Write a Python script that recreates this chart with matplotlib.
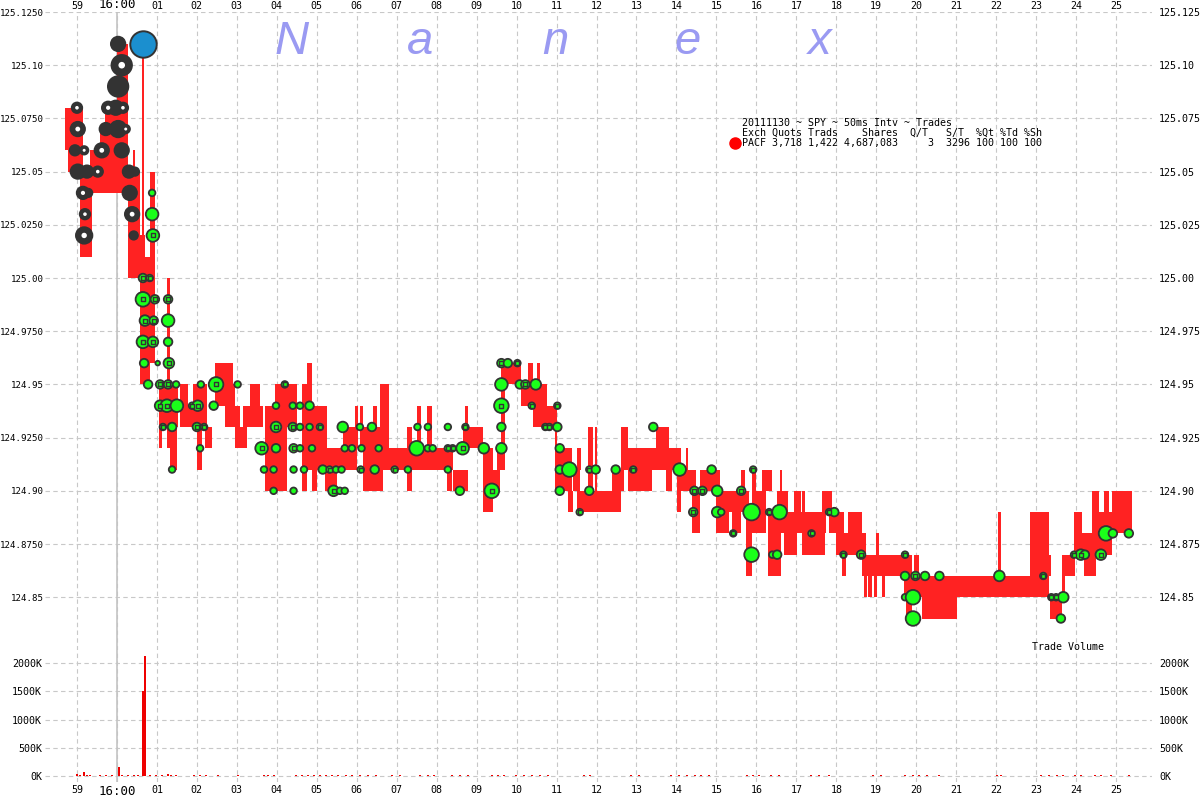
import matplotlib.pyplot as plt
from matplotlib.lines import Line2D

# ---- PACF quotes (bid/offer band), seconds after 16:00:00 ----
quote_t0 = [-1.30, -1.22, -0.92, -0.68, -0.42, -0.30, 0.00, 0.28, 0.40, 0.62,
            0.82, 0.58, 0.40, 0.70, 1.05, 1.25, 1.08, 1.32, 1.58, 1.70,
            1.90, 2.00, 2.20, 2.45, 2.70, 2.95, 3.00, 3.15, 3.32, 3.45,
            3.70, 3.95, 4.62, 4.75, 4.88, 5.00, 5.20, 5.50, 5.65, 5.95,
            6.08, 6.15, 6.40, 6.58, 6.75, 7.25, 7.32, 7.50, 7.75, 7.90,
            8.25, 8.40, 8.65, 8.70, 9.15, 9.40, 9.50, 9.62, 9.62, 10.12,
            10.28, 10.50, 10.40, 10.75, 10.95, 11.02, 11.28, 11.40, 11.52, 11.52,
            11.78, 11.95, 11.88, 12.38, 12.62, 12.78, 13.02, 13.50, 13.75, 14.02,
            14.08, 14.25, 14.40, 14.58, 15.00, 15.25, 15.40, 15.62, 15.75, 15.88,
            15.90, 16.15, 16.28, 16.52, 16.60, 16.50, 16.70, 16.95, 17.15, 17.15,
            17.65, 17.82, 18.00, 18.15, 18.30, 18.65, 18.70, 18.80, 18.95, 19.15,
            19.00, 19.95, 19.70, 20.15, 19.75, 22.05, 22.85, 23.12, 23.35, 23.65,
            23.65, 23.95, 24.02, 23.95, 24.20, 24.40, 24.50, 24.70, 24.90]
quote_t1 = [-1.22, -0.85, -0.62, -0.42, -0.22, 0.00, 0.28, 0.58, 0.45, 0.68,
            0.95, 0.82, 0.70, 0.82, 1.12, 1.32, 1.52, 1.50, 1.78, 1.90,
            2.25, 2.12, 2.38, 2.90, 2.95, 3.08, 3.25, 3.32, 3.58, 3.65,
            4.25, 4.50, 4.75, 4.88, 5.00, 5.25, 5.50, 6.00, 5.95, 6.02,
            6.15, 6.65, 6.52, 6.82, 7.32, 7.38, 8.00, 7.62, 7.88, 8.40,
            8.38, 8.78, 9.15, 8.78, 9.40, 9.58, 9.70, 9.70, 10.12, 10.40,
            10.40, 10.58, 10.75, 10.95, 11.02, 11.38, 11.40, 11.58, 11.62, 11.88,
            11.90, 12.02, 12.62, 12.70, 12.78, 13.40, 14.12, 13.82, 13.88, 14.12,
            14.50, 14.30, 14.58, 15.08, 15.32, 15.82, 15.62, 15.72, 15.90, 16.25,
            15.98, 16.38, 16.62, 16.78, 16.65, 17.75, 17.02, 17.12, 17.22, 17.72,
            17.90, 18.20, 18.75, 18.25, 18.65, 19.90, 18.78, 18.90, 19.02, 19.22,
            19.08, 20.08, 22.88, 21.02, 19.90, 22.12, 23.32, 23.38, 23.65, 23.98,
            23.72, 24.02, 24.15, 24.50, 24.50, 24.58, 24.90, 24.82, 25.40]
quote_hi = [125.08, 125.08, 125.05, 125.06, 125.07, 125.08, 125.11, 125.05, 125.06, 125.11,
            125.05, 125.00, 125.02, 125.01, 124.95, 125.00, 124.95, 124.95, 124.95, 124.94,
            124.95, 124.93, 124.93, 124.96, 124.95, 124.94, 124.93, 124.94, 124.95, 124.94,
            124.94, 124.95, 124.95, 124.96, 124.94, 124.94, 124.92, 124.92, 124.93, 124.94,
            124.94, 124.93, 124.94, 124.95, 124.92, 124.93, 124.92, 124.94, 124.94, 124.92,
            124.91, 124.91, 124.93, 124.94, 124.92, 124.91, 124.92, 124.95, 124.96, 124.95,
            124.96, 124.96, 124.95, 124.94, 124.94, 124.92, 124.90, 124.91, 124.92, 124.90,
            124.93, 124.93, 124.90, 124.91, 124.93, 124.92, 124.92, 124.93, 124.91, 124.92,
            124.91, 124.92, 124.90, 124.91, 124.90, 124.90, 124.89, 124.91, 124.89, 124.90,
            124.91, 124.91, 124.89, 124.90, 124.91, 124.89, 124.88, 124.90, 124.90, 124.88,
            124.90, 124.89, 124.88, 124.87, 124.89, 124.87, 124.86, 124.86, 124.86, 124.86,
            124.88, 124.87, 124.86, 124.85, 124.85, 124.89, 124.89, 124.87, 124.85, 124.87,
            124.86, 124.89, 124.89, 124.88, 124.87, 124.90, 124.89, 124.90, 124.90]
quote_lo = [125.06, 125.05, 125.01, 125.04, 125.04, 125.04, 125.04, 125.00, 125.05, 125.00,
            124.96, 124.95, 125.00, 125.00, 124.92, 124.92, 124.93, 124.91, 124.93, 124.93,
            124.93, 124.91, 124.92, 124.94, 124.93, 124.92, 124.92, 124.93, 124.93, 124.93,
            124.90, 124.93, 124.90, 124.91, 124.90, 124.91, 124.90, 124.91, 124.91, 124.92,
            124.92, 124.90, 124.92, 124.91, 124.91, 124.90, 124.91, 124.92, 124.92, 124.91,
            124.90, 124.90, 124.92, 124.93, 124.89, 124.90, 124.91, 124.91, 124.95, 124.94,
            124.95, 124.95, 124.93, 124.93, 124.90, 124.90, 124.89, 124.90, 124.91, 124.89,
            124.90, 124.90, 124.89, 124.90, 124.91, 124.90, 124.91, 124.91, 124.90, 124.89,
            124.90, 124.91, 124.88, 124.90, 124.88, 124.89, 124.88, 124.90, 124.86, 124.88,
            124.90, 124.90, 124.86, 124.89, 124.90, 124.88, 124.87, 124.89, 124.89, 124.87,
            124.89, 124.88, 124.87, 124.86, 124.88, 124.86, 124.85, 124.85, 124.85, 124.85,
            124.87, 124.86, 124.85, 124.84, 124.84, 124.86, 124.85, 124.86, 124.84, 124.86,
            124.85, 124.87, 124.87, 124.87, 124.86, 124.88, 124.87, 124.89, 124.88]

# ---- trades: time, price, shares, kind ----
# kind: d dark, w dark with white core, g green, m green with inner print, b block print
trade_t = [-1.00, -0.22, -0.03, 0.15, -0.98, -0.28, 0.03, 0.22, -1.05, -0.82,
           -0.38, 0.12, -0.98, -0.75, -0.48, 0.30, 0.45, -0.85, -0.72, 0.32,
           -0.80, 0.38, -0.82, 0.42, 0.03, 0.03, 0.12,
           0.88, 0.88, 0.90, 0.65, 0.82, 0.65, 0.95, 1.28, 0.70, 0.92,
           1.28, 0.65, 0.90, 1.28, 0.68, 1.02, 1.30, 0.78, 1.08, 1.28,
           1.48, 1.08, 1.25, 1.50, 1.15, 1.38, 1.38, 2.10, 2.48, 3.02,
           1.88, 2.02, 2.42, 2.00, 2.18, 2.08, 4.20, 3.98, 4.40, 4.58,
           4.82, 3.98, 4.40, 4.58, 4.82, 5.08, 3.62, 3.98, 4.42, 4.58,
           4.88, 3.68, 3.92, 4.42, 4.68, 3.92, 4.42, 5.42, 5.58, 5.70,
           5.15, 5.32, 5.48, 5.62, 5.65, 6.08, 6.38, 5.70, 5.88, 6.12,
           6.55, 6.10, 6.45, 6.95, 7.28, 7.50, 7.78, 7.90, 7.52, 7.78,
           8.28, 8.72, 8.28, 8.40, 8.65, 9.18, 8.28, 8.58, 9.38, 9.62,
           9.78, 10.02, 9.62, 10.08, 10.22, 10.48, 9.62, 10.38, 11.02, 9.62,
           10.72, 10.82, 11.02, 9.62, 11.08, 11.08, 11.32, 11.82, 11.98, 12.48,
           12.92, 14.08, 14.88, 11.08, 11.82, 14.45, 14.65, 15.02, 11.58, 14.42,
           15.02, 13.42, 15.92, 15.62, 15.12, 15.88, 16.32, 16.58, 17.82, 17.95,
           15.42, 17.38, 15.88, 16.40, 16.52, 18.18, 18.62, 19.72, 19.72, 19.98,
           20.22, 20.58, 22.08, 19.72, 19.92, 19.92, 23.18, 23.38, 23.50, 23.68,
           23.62, 23.95, 24.12, 24.22, 24.62, 24.75, 24.92, 25.32,
           0.65]
trade_px = [125.08, 125.08, 125.08, 125.08, 125.07, 125.07, 125.07, 125.07, 125.06, 125.06,
            125.06, 125.06, 125.05, 125.05, 125.05, 125.05, 125.05, 125.04, 125.04, 125.04,
            125.03, 125.03, 125.02, 125.02, 125.11, 125.09, 125.10,
            125.04, 125.03, 125.02, 125.00, 125.00, 124.99, 124.99, 124.99, 124.98, 124.98,
            124.98, 124.97, 124.97, 124.97, 124.96, 124.96, 124.96, 124.95, 124.95, 124.95,
            124.95, 124.94, 124.94, 124.94, 124.93, 124.93, 124.91, 124.95, 124.95, 124.95,
            124.94, 124.94, 124.94, 124.93, 124.93, 124.92, 124.95, 124.94, 124.94, 124.94,
            124.94, 124.93, 124.93, 124.93, 124.93, 124.93, 124.92, 124.92, 124.92, 124.92,
            124.92, 124.91, 124.91, 124.91, 124.91, 124.90, 124.90, 124.90, 124.90, 124.90,
            124.91, 124.91, 124.91, 124.91, 124.93, 124.93, 124.93, 124.92, 124.92, 124.92,
            124.92, 124.91, 124.91, 124.91, 124.91, 124.92, 124.92, 124.92, 124.93, 124.93,
            124.93, 124.93, 124.92, 124.92, 124.92, 124.92, 124.91, 124.90, 124.90, 124.96,
            124.96, 124.96, 124.95, 124.95, 124.95, 124.95, 124.94, 124.94, 124.94, 124.93,
            124.93, 124.93, 124.93, 124.92, 124.92, 124.91, 124.91, 124.91, 124.91, 124.91,
            124.91, 124.91, 124.91, 124.90, 124.90, 124.90, 124.90, 124.90, 124.89, 124.89,
            124.89, 124.93, 124.91, 124.90, 124.89, 124.89, 124.89, 124.89, 124.89, 124.89,
            124.88, 124.88, 124.87, 124.87, 124.87, 124.87, 124.87, 124.87, 124.86, 124.86,
            124.86, 124.86, 124.86, 124.85, 124.85, 124.84, 124.86, 124.85, 124.85, 124.85,
            124.84, 124.87, 124.87, 124.87, 124.87, 124.88, 124.88, 124.88,
            125.11]
trade_sh = [33000, 71000, 138000, 33000, 138000, 71000, 250000, 13000, 33000, 13000,
            138000, 138000, 138000, 71000, 33000, 71000, 13000, 71000, 13000, 138000,
            33000, 138000, 250000, 13000, 138000, 680000, 680000,
            4300, 71000, 71000, 13000, 4300, 138000, 13000, 13000, 33000, 13000,
            71000, 71000, 33000, 13000, 13000, 1000, 33000, 13000, 13000, 13000,
            4300, 33000, 71000, 71000, 4300, 13000, 4300, 4300, 138000, 4300,
            4300, 33000, 13000, 13000, 4300, 4300, 4300, 4300, 4300, 4300,
            13000, 33000, 13000, 4300, 4300, 4300, 71000, 13000, 13000, 4300,
            4300, 4300, 4300, 4300, 4300, 4300, 4300, 33000, 4300, 4300,
            13000, 4300, 4300, 4300, 33000, 4300, 13000, 4300, 4300, 4300,
            4300, 4300, 13000, 4300, 4300, 138000, 4300, 4300, 4300, 4300,
            4300, 4300, 4300, 4300, 71000, 33000, 4300, 13000, 138000, 13000,
            13000, 4300, 71000, 13000, 13000, 33000, 138000, 4300, 4300, 13000,
            4300, 4300, 13000, 33000, 13000, 13000, 138000, 4300, 13000, 13000,
            4300, 71000, 13000, 13000, 13000, 13000, 13000, 33000, 4300, 13000,
            33000, 13000, 4300, 13000, 4300, 250000, 4300, 138000, 4300, 13000,
            4300, 4300, 138000, 4300, 13000, 4300, 13000, 4300, 13000, 13000,
            13000, 13000, 33000, 4300, 138000, 138000, 4300, 4300, 4300, 33000,
            13000, 4300, 33000, 13000, 33000, 138000, 13000, 13000,
            2200000]
trade_kind = ("wwdwwddwdw" "wdddwddwdd" "wwwdddw"
              "ggmmmmmmmm" "gmmgggmgmm" "gmmgmgggmg" "mmgmmgmggg"
              "gmmggmmgmg" "gggggggmgg" "gmgggggggg" "gmgmgggggg"
              "gmmmmgggmm" "gmggmgmmmg" "mmgggggmgg" "mggggmmgmm"
              "ggmmggmgmg" "mmgggmmmgm" "ggggggmmmg" "gmmgmggg"
              "b")
assert len(trade_t) == len(trade_px) == len(trade_sh) == len(trade_kind)

# ---- trade volume per 50ms interval (thousands of shares) ----
vol_t = [-1.02, -0.95, -0.85, -0.78, -0.70, -0.45, -0.30, -0.15, 0.03, 0.10,
         0.25, 0.40, 0.50, 0.62, 0.68, 0.80, 0.95, 1.10, 1.25, 1.32,
         1.45, 1.90, 2.05, 2.20, 2.50, 3.00, 3.65, 3.75, 3.90, 4.45,
         4.60, 4.75, 4.90, 5.05, 5.20, 5.35, 5.50, 5.70, 5.85, 6.05,
         6.25, 6.45, 6.85, 7.05, 7.55, 7.75, 7.90, 8.35, 8.55, 8.75,
         9.35, 9.50, 9.65, 9.95, 10.15, 10.35, 10.55, 10.75, 11.65, 11.80,
         12.85, 13.05, 13.85, 14.05, 14.25, 14.45, 14.60, 14.80, 15.75, 15.90,
         16.05, 16.35, 16.55, 17.35, 17.55, 17.80, 18.90, 19.10, 19.70, 19.90,
         20.05, 20.25, 20.55, 22.00, 22.10, 23.10, 23.30, 23.50, 23.65, 23.95,
         24.10, 24.45, 24.60, 24.85, 25.30]
vol_k = [40, 25, 70, 18, 16, 16, 16, 16, 160, 18,
         16, 16, 16, 1500, 2130, 18, 22, 18, 35, 18,
         18, 18, 16, 16, 22, 18, 18, 18, 16, 18,
         18, 18, 18, 18, 18, 16, 18, 18, 16, 18,
         16, 18, 18, 16, 18, 16, 18, 18, 16, 18,
         18, 26, 18, 18, 18, 16, 18, 18, 18, 16,
         18, 16, 18, 18, 16, 18, 16, 18, 18, 16,
         18, 18, 16, 18, 16, 18, 18, 16, 18, 18,
         16, 18, 16, 18, 16, 18, 18, 16, 18, 18,
         16, 18, 18, 16, 18]

sec_ticks = list(range(-1, 26))
sec_labels = ["59", "16:00"] + [f"{s:02d}" for s in range(1, 26)]
price_ticks = [124.85, 124.875, 124.90, 124.925, 124.95, 124.975,
               125.00, 125.025, 125.05, 125.075, 125.10, 125.125]
left_labels = ["124.85", "124.8750", "124.90", "124.9250", "124.95", "124.9750",
               "125.00", "125.0250", "125.05", "125.0750", "125.10", "125.1250"]
right_labels = ["124.85", "124.875", "124.90", "124.925", "124.95", "124.975",
                "125.00", "125.025", "125.05", "125.075", "125.10", "125.125"]
vol_ticks = [0, 500, 1000, 1500, 2000]
vol_labels = ["0K", "500K", "1000K", "1500K", "2000K"]

MONO = "DejaVu Sans Mono"
FS = 7.2
RED = "#ff2222"
GREEN = "#1aff1a"
DARK = "#333333"
GRID = "#c8c8c8"

W, H = 1200, 800
fig = plt.figure(figsize=(12, 8), dpi=100)
ax = fig.add_axes([45 / W, 1 - 650 / H, 1107 / W, 638 / H])
axv = fig.add_axes([45 / W, 1 - 782 / H, 1107 / W, 132 / H], sharex=ax)


def style(a):
    for sp in a.spines.values():
        sp.set_visible(False)
    a.tick_params(length=0, labelsize=FS)
    for lab in a.get_xticklabels() + a.get_yticklabels():
        lab.set_family(MONO)


# quotes band
heights = [h - l for h, l in zip(quote_hi, quote_lo)]
widths = [b - a for a, b in zip(quote_t0, quote_t1)]
ax.bar(quote_t0, heights, width=widths, bottom=quote_lo, align="edge",
       color=RED, linewidth=0, zorder=2)


def diam(sh):
    return 1.5 * sh ** 0.2  # pixels


def area(sh):
    return max(0.72 * diam(sh) - 1.0, 2.0) ** 2


def pick(kinds):
    idx = [i for i, k in enumerate(trade_kind) if k in kinds]
    return ([trade_t[i] for i in idx], [trade_px[i] for i in idx],
            [trade_sh[i] for i in idx])


t, p, sh = pick("dw")
ax.scatter(t, p, s=[area(v) for v in sh], color=DARK, edgecolors=DARK,
           linewidths=1.2, zorder=4)
t, p, sh = pick("w")
ax.scatter(t, p, s=[(0.72 * diam(v) * 0.3) ** 2 for v in sh], color="white",
           linewidths=0, zorder=5)
t, p, sh = pick("gm")
ax.scatter(t, p, s=[area(v) for v in sh], color=GREEN, edgecolors=DARK,
           linewidths=1.3, zorder=6)
t, p, sh = pick("m")
ax.scatter(t, p, s=9, marker="s", color=GREEN, edgecolors=DARK,
           linewidths=1.0, zorder=7)
t, p, sh = pick("b")
ax.scatter(t, p, s=[area(v) for v in sh], color="#1b8fcf", edgecolors=DARK,
           linewidths=1.4, zorder=8)

ax.axvline(0, color="#c4c4c4", linewidth=1.2, zorder=1)
ax.set_xlim(-1.80, 25.90)
ax.set_ylim(124.8252, 125.125)
ax.set_xticks(sec_ticks, sec_labels)
ax.set_yticks(price_ticks, left_labels)
ax.grid(True, color=GRID, linestyle=(0, (4, 3)), linewidth=0.8)
ax.set_axisbelow(True)
ax.tick_params(axis="x", top=True, labeltop=True, bottom=False,
               labelbottom=False, pad=1)
style(ax)
ax.tick_params(axis="y", pad=1, labelsize=6.6)

axr = ax.twinx()
axr.set_ylim(ax.get_ylim())
axr.set_yticks(price_ticks, right_labels)
axr.tick_params(axis="y", pad=5)
style(axr)

# volume panel
axv.bar(vol_t, vol_k, width=0.05, align="edge", color="#ee0000",
        linewidth=0, zorder=2)
axv.axvline(0, color="#c4c4c4", linewidth=1.2, zorder=1)
axv.set_ylim(-106, 2230)
axv.set_yticks(vol_ticks, vol_labels)
axv.grid(True, color=GRID, linestyle=(0, (4, 3)), linewidth=0.8)
axv.set_axisbelow(True)
axv.tick_params(axis="x", bottom=True, labelbottom=True, top=False,
                labeltop=False, pad=2)
axv.tick_params(axis="y", pad=2)
style(axv)

axvr = axv.twinx()
axvr.set_ylim(axv.get_ylim())
axvr.set_yticks(vol_ticks, vol_labels)
axvr.tick_params(axis="y", pad=5)
style(axvr)

for a in (ax, axv):
    for lab in a.get_xticklabels():
        if lab.get_text() == "16:00":
            lab.set_fontsize(9)

# watermark
for ch, xp in zip("Nanex", [292, 420, 555, 688, 820]):
    fig.text(xp / W, 1 - 42 / H, ch, ha="center", va="center", fontsize=34,
             style="italic", family="Liberation Sans", color="#9a9af2")

# header block
lines = ["20111130 ~ SPY ~ 50ms Intv ~ Trades",
         "Exch Quots Trads    Shares  Q/T   S/T  %Qt %Td %Sh",
         "PACF 3,718 1,422 4,687,083     3  3296 100 100 100"]
for i, line in enumerate(lines):
    fig.text(742 / W, 1 - (123 + 10 * i) / H, line, va="center",
             family=MONO, fontsize=FS)
fig.add_artist(Line2D([735 / W], [1 - 143 / H], transform=fig.transFigure,
                      marker="o", markersize=8, color="#ff0000",
                      linestyle="none"))

fig.text(1032 / W, 1 - 647 / H, "Trade Volume", va="center",
         family=MONO, fontsize=FS)

fig.savefig("out.png", dpi=100)
